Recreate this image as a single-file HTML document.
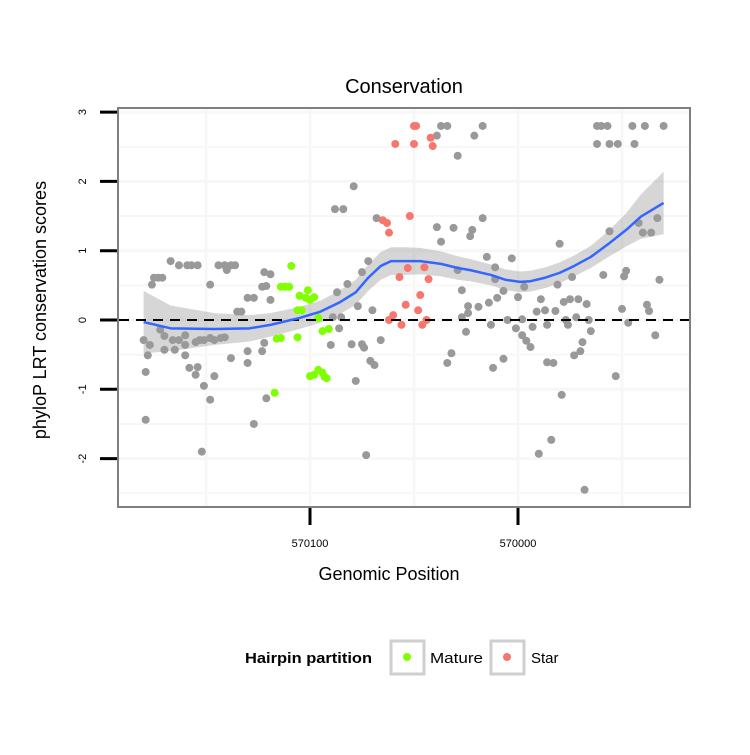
<!DOCTYPE html>
<html><head><meta charset="utf-8"><style>
body{margin:0;background:#fff}
svg text{font-family:"Liberation Sans",sans-serif}
</style></head><body>
<svg id="chart" width="750" height="750" xmlns="http://www.w3.org/2000/svg">
<rect width="750" height="750" fill="#fff"/>
<text x="404" y="93" text-anchor="middle" font-size="20">Conservation</text>
<g id="grid"></g>
<g id="band"></g>
<g id="pts"></g>
<g id="axes"></g>
<rect x="118" y="108" width="572" height="399" fill="none" stroke="#7f7f7f" stroke-width="2"/>
<text x="389" y="580" text-anchor="middle" font-size="18">Genomic Position</text>
<text transform="translate(46,310) rotate(-90)" text-anchor="middle" font-size="18">phyloP LRT conservation scores</text>
<g>
<text x="245" y="663" font-size="15" font-weight="bold" textLength="127" lengthAdjust="spacingAndGlyphs">Hairpin partition</text>
<rect x="391" y="641" width="33" height="33" fill="#fff" stroke="#cfcfcf" stroke-width="3"/>
<circle cx="407" cy="657" r="4" fill="#7fff00"/>
<text x="430" y="663" font-size="15" textLength="53" lengthAdjust="spacingAndGlyphs">Mature</text>
<rect x="491" y="641" width="33" height="33" fill="#fff" stroke="#cfcfcf" stroke-width="3"/>
<circle cx="507" cy="657" r="4" fill="#f8766d"/>
<text x="531" y="663" font-size="15">Star</text>
</g>
</svg>
<script>
const grayPos=[570180,570179,570179,570178,570177,570176,570175,570173,570171,570167,570163,570159,570157,570154,570144,570141,570138,570140,570136,570130,570127,570123,570121,570148,570119,570166,570172,570170,570163,570160,570160,570155,570153,570151,570148,570146,570143,570141,570170,570165,570160,570158,570154,570155,570151,570146,570148,570152,570127,570121,570138,570130,570130,570122,570123,570119,570122,570135,570133,570079,570088,570084,570068,570072,570075,570082,570087,570077,570070,570089,570085,570086,570066,570075,570074,570080,570090,570071,570069,570078,570073,570034,570039,570037,570017,570021,570029,569962,569960,569957,569945,569939,569930,569962,569956,569952,569944,570017,570039,570031,570022,570023,570037,569980,569956,569942,569940,569936,569933,570015,570003,570011,570029,570011,569974,569981,569997,569959,569948,569949,569932,570027,570007,570010,570000,569989,569978,569975,569971,569967,570014,570019,570024,570024,570027,569991,569987,569982,569950,569938,569937,570005,569998,569977,569972,569966,569947,570013,570001,569993,569986,569976,570025,569998,569996,569994,569965,569969,569970,569973,569934,570032,570034,570007,570012,569986,569983,569953,569979,569984,569990,569968];
const grayScore=[-0.29,-0.75,-1.44,-0.51,-0.36,0.51,0.61,0.61,0.61,0.85,0.79,0.79,0.79,0.79,0.79,0.79,0.79,0.72,0.79,0.32,0.32,0.48,0.49,0.51,0.29,-0.29,-0.14,-0.23,-0.29,-0.22,-0.36,-0.32,-0.29,-0.29,-0.26,-0.29,-0.26,-0.25,-0.43,-0.43,-0.51,-0.69,-0.68,-0.79,-0.95,-0.81,-1.15,-1.90,-1.50,-1.13,-0.55,-0.62,-0.45,-0.33,-0.45,0.66,0.69,0.12,0.12,1.93,1.60,1.60,1.47,0.85,0.69,0.52,0.40,0.20,0.14,0.04,0.04,-0.12,-0.29,-0.35,-0.40,-0.35,-0.36,-0.59,-0.65,-0.88,-1.95,2.80,2.66,2.80,2.80,2.66,2.37,2.80,2.80,2.80,2.80,2.80,2.80,2.54,2.54,2.54,2.54,1.47,1.34,1.33,1.30,1.21,1.13,1.10,1.28,1.40,1.26,1.26,1.47,0.91,0.89,0.76,0.72,0.59,0.62,0.51,0.48,0.65,0.71,0.63,0.58,0.43,0.42,0.32,0.33,0.30,0.26,0.30,0.30,0.23,0.25,0.19,0.20,0.10,0.04,0.12,0.14,0.13,0.16,0.22,0.13,0.00,0.01,0.00,0.04,0.00,-0.04,-0.07,-0.12,-0.10,-0.07,-0.07,-0.17,-0.22,-0.30,-0.39,-0.16,-0.32,-0.45,-0.51,-0.22,-0.48,-0.62,-0.56,-0.69,-0.61,-0.62,-0.81,-1.08,-1.73,-1.93,-2.45];
const maturePos=[570109,570110,570114,570112,570105,570102,570101,570100,570098,570106,570104,570096,570106,570116,570114,570094,570091,570100,570098,570096,570094,570093,570092,570117];
const matureScore=[0.78,0.48,0.48,0.48,0.35,0.32,0.43,0.29,0.33,0.14,0.14,0.03,-0.25,-0.27,-0.26,-0.16,-0.13,-0.81,-0.79,-0.72,-0.76,-0.82,-0.84,-1.05];
const starPos=[570059,570050,570049,570050,570042,570041,570052,570065,570063,570062,570053,570045,570043,570047,570054,570048,570044,570056,570046,570057,570062,570060];
const starScore=[2.54,2.80,2.80,2.54,2.63,2.51,1.50,1.44,1.40,1.26,0.75,0.76,0.59,0.36,0.22,0.14,0.00,-0.07,-0.07,0.62,0.00,0.07];
const fitPos=[570180,570167,570146,570129,570119,570105,570095,570086,570078,570072,570066,570061,570054,570047,570037,570029,570023,570013,570006,569999,569994,569987,569980,569973,569965,569956,569948,569941,569930];
const fitVal=[-0.03,-0.12,-0.13,-0.12,-0.07,0.03,0.12,0.25,0.40,0.61,0.78,0.85,0.85,0.85,0.81,0.75,0.72,0.65,0.58,0.55,0.56,0.61,0.68,0.78,0.91,1.11,1.30,1.49,1.69];
const fitSe=[0.45,0.33,0.23,0.19,0.17,0.16,0.16,0.17,0.18,0.19,0.2,0.2,0.2,0.19,0.18,0.17,0.16,0.15,0.15,0.15,0.15,0.15,0.15,0.15,0.16,0.19,0.24,0.32,0.45];
const yTicks=[3,2,1,0,-1,-2];
const xTicks=[570100,570000];
const xTickLabels=["570100","570000"];

const NS="http://www.w3.org/2000/svg";
const X=p=>310+(570100-p)*2.08;
const Y=v=>320-v*69.3;
function mk(parent,tag,attrs){const e=document.createElementNS(NS,tag);for(const k in attrs)e.setAttribute(k,attrs[k]);document.getElementById(parent).appendChild(e);return e;}

for(let v=-2.5;v<=3;v+=0.5){const l=mk('grid','line',{x1:119,x2:689,y1:Y(v),y2:Y(v),stroke:'#f7f7f7','stroke-width':Number.isInteger(v)?3:2});

}
for(const p of [570150,570100,570050,570000,569950]){const l=mk('grid','line',{x1:X(p),x2:X(p),y1:109,y2:506,stroke:'#f7f7f7','stroke-width':3});

}

const bandTop=fitPos.map((p,i)=>X(p)+','+Y(fitVal[i]+fitSe[i]));
const bandBot=fitPos.map((p,i)=>X(p)+','+Y(fitVal[i]-fitSe[i])).reverse();
const band=mk('band','polygon',{points:bandTop.concat(bandBot).join(' '),fill:'#999','fill-opacity':0.4});



function pts(pos,sc,col,name){pos.forEach((p,i)=>{const c=mk('pts','circle',{cx:X(p),cy:Y(sc[i]),r:4,fill:col});

});}
pts(grayPos,grayScore,'#999999','point-other');
pts(maturePos,matureScore,'#7fff00','point-mature');
pts(starPos,starScore,'#f8766d','point-star');

const z=mk('pts','line',{x1:119,x2:689,y1:Y(0),y2:Y(0),stroke:'#000','stroke-width':2,'stroke-dasharray':'10 7'});


const fit=mk('pts','polyline',{points:fitPos.map((p,i)=>X(p)+','+Y(fitVal[i])).join(' '),fill:'none',stroke:'#3366ff','stroke-width':2.5,'stroke-linejoin':'round'});



yTicks.forEach(v=>{const t=mk('axes','line',{x1:100,x2:118,y1:Y(v),y2:Y(v),stroke:'#000','stroke-width':3});


const tx=mk('axes','text',{transform:`translate(86,${Y(v)}) rotate(-90)`,'text-anchor':'middle','font-size':11});
tx.textContent=String(v);

});
xTicks.forEach((p,i)=>{const t=mk('axes','line',{x1:X(p),x2:X(p),y1:507,y2:525,stroke:'#000','stroke-width':3});


const tx=mk('axes','text',{x:X(p),y:547,'text-anchor':'middle','font-size':11});
tx.textContent=xTickLabels[i];

});
</script>
</body></html>
